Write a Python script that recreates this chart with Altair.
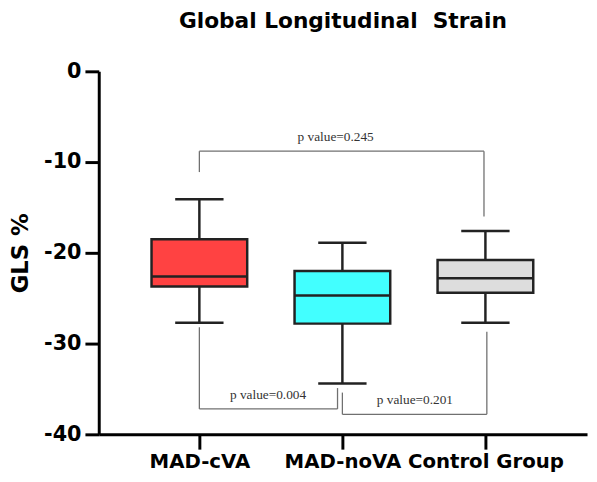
import altair as alt
import pandas as pd

# ---- data ----
title_text = "Global Longitudinal\u00a0 Strain"
groups = ["MAD-cVA", "MAD-noVA", "Control Group"]
positions = [1, 2, 3]
whisker_low = [-27.7, -34.4, -27.7]
q1 = [-23.7, -27.8, -24.4]
median = [-22.6, -24.7, -22.8]
q3 = [-18.5, -22.0, -20.8]
whisker_high = [-14.1, -18.9, -17.6]
fill_colors = ["#FF4242", "#42FFFF", "#DDDDDD"]

# significance brackets (data units)
br_x = [1.0, 1.0, 2.99, 1.0, 1.0, 1.966, 2.0, 2.0, 3.01]
br_x2 = [2.99, 1.0, 2.99, 1.966, 1.0, 1.966, 3.01, 2.0, 3.01]
br_y = [-8.8, -8.8, -8.8, -37.2, -28.2, -37.2, -37.8, -35.4, -37.8]
br_y2 = [-8.8, -11.1, -16.0, -37.2, -37.2, -34.9, -37.8, -37.8, -28.7]

p_labels = ["p value=0.245", "p value=0.004", "p value=0.201"]
p_x = [1.953, 1.48, 2.507]
p_y = [-7.2, -35.65, -36.2]

boxes = pd.DataFrame({
    "group": groups, "pos": positions, "lo": whisker_low, "q1": q1,
    "med": median, "q3": q3, "hi": whisker_high,
})
brackets = pd.DataFrame({"x": br_x, "x2": br_x2, "y": br_y, "y2": br_y2})
ptext = pd.DataFrame({"label": p_labels, "x": p_x, "y": p_y})

label_expr = ("datum.value == 1 ? '%s' : datum.value == 2 ? '%s' : datum.value == 3 ? '%s' : ''"
              % tuple(groups))

xscale = alt.Scale(domain=[0.331, 3.676], nice=False, zero=False)
yscale = alt.Scale(domain=[-40, 0], nice=False, zero=False)

x_axis = alt.Axis(values=positions, labelExpr=label_expr, title=None, grid=False,
                  domainWidth=3, domainColor="black", tickWidth=3, tickSize=15,
                  tickColor="black", labelFont="DejaVu Sans", labelFontWeight="bold",
                  labelFontSize=20, labelColor="black", labelPadding=3)
y_axis = alt.Axis(values=[0, -10, -20, -30, -40], labelExpr="'' + datum.value",
                  title="GLS %", grid=False,
                  domainWidth=3, domainColor="black", tickWidth=3, tickSize=14,
                  tickColor="black", labelFont="DejaVu Sans", labelFontWeight="bold",
                  labelFontSize=21, labelColor="black", labelPadding=4,
                  titleFont="DejaVu Sans", titleFontWeight="bold", titleFontSize=23,
                  titleColor="black", titleAngle=-90, titleX=-79, titleY=184,
                  titleAlign="center", titleBaseline="middle")

base = alt.Chart(boxes)

whisk_up = base.mark_rule(color="#222222", strokeWidth=2.5).encode(
    x=alt.X("pos:Q", scale=xscale, axis=x_axis),
    y=alt.Y("q3:Q", scale=yscale, axis=y_axis),
    y2="hi:Q",
)
whisk_dn = base.mark_rule(color="#222222", strokeWidth=2.5).encode(
    x=alt.X("pos:Q", scale=xscale), y=alt.Y("lo:Q", scale=yscale), y2="q1:Q",
)
box = base.mark_bar(size=97, stroke="#222222", strokeWidth=2.5).encode(
    x=alt.X("pos:Q", scale=xscale), y=alt.Y("q1:Q", scale=yscale), y2="q3:Q",
    fill=alt.Fill("group:N", scale=alt.Scale(domain=groups, range=fill_colors), legend=None),
)
med = base.mark_tick(orient="horizontal", size=97, thickness=2.5, color="#222222", opacity=1).encode(
    x=alt.X("pos:Q", scale=xscale), y=alt.Y("med:Q", scale=yscale),
)
cap_hi = base.mark_tick(orient="horizontal", size=49, thickness=2.5, color="#222222", opacity=1).encode(
    x=alt.X("pos:Q", scale=xscale), y=alt.Y("hi:Q", scale=yscale),
)
cap_lo = base.mark_tick(orient="horizontal", size=49, thickness=2.5, color="#222222", opacity=1).encode(
    x=alt.X("pos:Q", scale=xscale), y=alt.Y("lo:Q", scale=yscale),
)

br = alt.Chart(brackets).mark_rule(color="#707070", strokeWidth=1.3).encode(
    x=alt.X("x:Q", scale=xscale), x2="x2:Q",
    y=alt.Y("y:Q", scale=yscale), y2="y2:Q",
)
pt = alt.Chart(ptext).mark_text(font="Liberation Serif", fontSize=13.5, color="#333333",
                                align="center", baseline="middle").encode(
    x=alt.X("x:Q", scale=xscale), y=alt.Y("y:Q", scale=yscale), text="label:N",
)

ttl = alt.Chart(pd.DataFrame({"t": [title_text]})).mark_text(
    font="DejaVu Sans", fontWeight="bold", fontSize=22, color="black",
    align="center", baseline="alphabetic",
).encode(x=alt.value(247.5), y=alt.value(-44), text="t:N")

chart = alt.layer(whisk_up, whisk_dn, box, med, cap_hi, cap_lo, br, pt, ttl).properties(
    width=495, height=368,
    background="white",
    autosize=alt.AutoSizeParams(type="none"),
    padding={"left": 92, "top": 61, "right": 2, "bottom": 37},
).configure_view(strokeWidth=0, stroke="transparent")

chart.save("out.html", embed_options={"renderer": "svg", "actions": False})
